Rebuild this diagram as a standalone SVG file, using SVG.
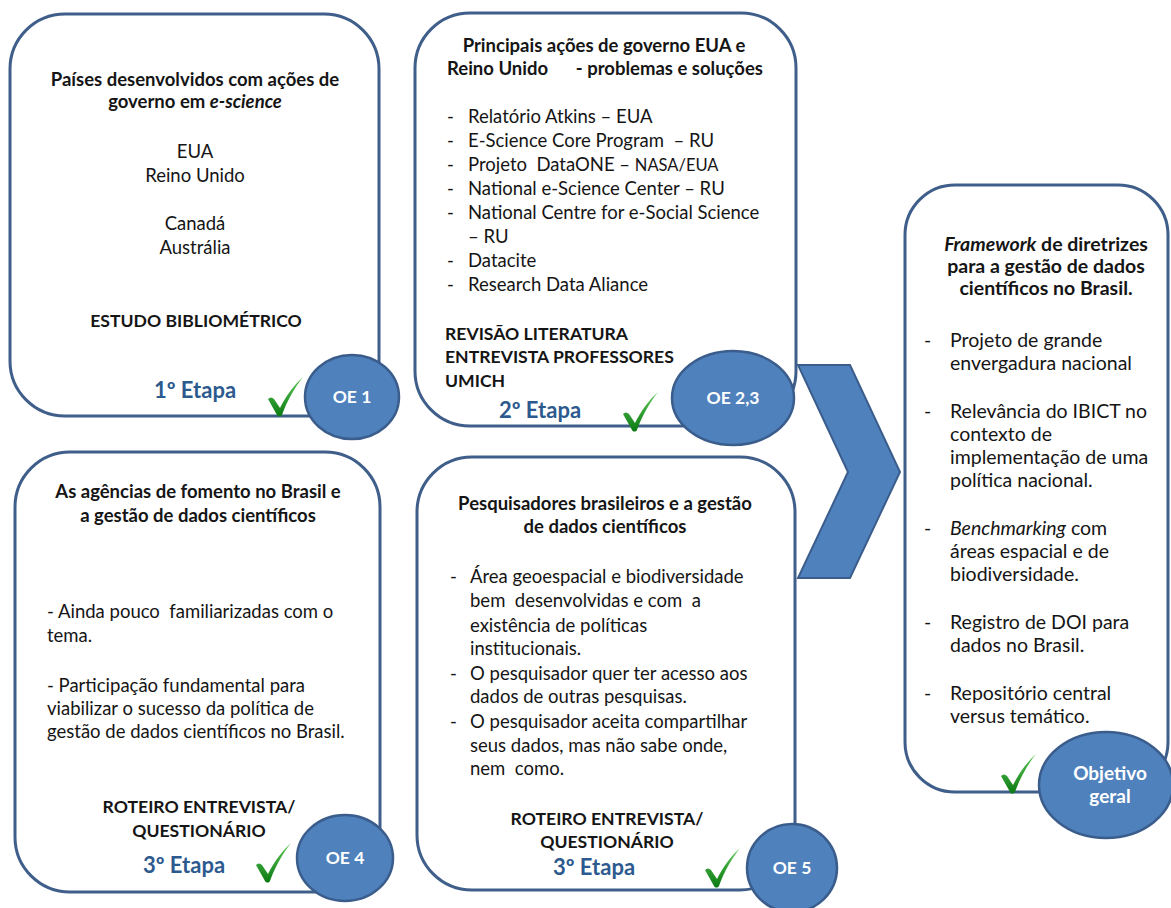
<svg xmlns="http://www.w3.org/2000/svg" width="1171" height="908" viewBox="0 0 1171 908">
  <defs>
    <linearGradient id="tickFill" x1="0" y1="0" x2="0" y2="1">
      <stop offset="0" stop-color="#5fc85a"/>
      <stop offset="1" stop-color="#0a7a12"/>
    </linearGradient>
    <!-- green tick mark, 36 x 40 -->
    <path id="tick" d="M1,22 C3,20 5,20 7,22 L13,31 C19,19 27,8 36,0 C28,10 20,24 15,38 C14,40 11,40 10,38 Z" fill="url(#tickFill)"/>
  </defs>
  <style>
    .box{fill:#fff;stroke:#3f5e89;stroke-width:3}
    .oe{fill:#4f81bd;stroke:#3a5d8c;stroke-width:2.5}
    text{font-family:Lato,"Open Sans","Liberation Sans",sans-serif;fill:#151515;font-size:18.5px}
    .b{font-weight:bold}
    .c{text-anchor:middle}
    .caps{font-size:17.6px;font-weight:bold}
    .big{font-size:19.5px}
    .et{font-size:22px;font-weight:bold;fill:#2d5a8e;text-anchor:middle}
    .oel{font-size:17.5px;font-weight:bold;fill:#fff;text-anchor:middle}
    .goal{font-size:19px;font-weight:bold;fill:#fff;text-anchor:middle}
    .arrow{fill:#4f81bd;stroke:#3a5d8c;stroke-width:2}
  </style>
  <rect width="1171" height="908" fill="#fff"/>

  <!-- Stage 1 -->
  <g id="stage1">
    <rect class="box" x="10" y="14" width="369" height="402" rx="55" ry="55"/>
    <text class="b c" x="195" y="86">Países desenvolvidos com ações de</text>
    <text class="b c" x="195" y="108">governo em <tspan font-style="italic">e-science</tspan></text>
    <text class="c" x="195" y="158">EUA</text>
    <text class="c" x="195" y="182">Reino Unido</text>
    <text class="c" x="195" y="230">Canadá</text>
    <text class="c" x="195" y="254">Austrália</text>
    <text class="caps c" x="196" y="327">ESTUDO BIBLIOMÉTRICO</text>
    <text class="et" x="195" y="398">1º Etapa</text>
    <use href="#tick" x="267" y="377"/>
    <ellipse class="oe" cx="352" cy="397" rx="47" ry="42"/>
    <text class="oel" x="352" y="403">OE 1</text>
  </g>

  <!-- Stage 2 -->
  <g id="stage2">
    <rect class="box" x="415" y="13" width="381" height="413" rx="55" ry="55"/>
    <text class="b c" x="604" y="52">Principais ações de governo EUA e</text>
    <text class="b" x="447" y="75">Reino Unido</text>
    <text class="b" x="763" y="75" text-anchor="end">- problemas e soluções</text>
    <g>
      <text x="447" y="123">-</text><text x="468" y="123">Relatório Atkins – EUA</text>
      <text x="447" y="147">-</text><text x="468" y="147" xml:space="preserve">E-Science Core Program  – RU</text>
      <text x="447" y="171">-</text><text x="468" y="171" xml:space="preserve">Projeto  DataONE – <tspan font-size="16.5px">NASA/EUA</tspan></text>
      <text x="447" y="195">-</text><text x="468" y="195">National e-Science Center – RU</text>
      <text x="447" y="219">-</text><text x="468" y="219">National Centre for e-Social Science</text>
      <text x="468" y="243">– RU</text>
      <text x="447" y="267">-</text><text x="468" y="267">Datacite</text>
      <text x="447" y="291">-</text><text x="468" y="291">Research Data Aliance</text>
    </g>
    <text class="caps" x="445" y="340">REVISÃO LITERATURA</text>
    <text class="caps" x="445" y="363">ENTREVISTA PROFESSORES</text>
    <text class="caps" x="445" y="387">UMICH</text>
    <text class="et" x="540" y="418">2º Etapa</text>
    <use href="#tick" x="622" y="392"/>
    <ellipse class="oe" cx="733" cy="398" rx="61" ry="47"/>
    <text class="oel" x="733" y="404">OE 2,3</text>
  </g>

  <!-- Stage 3: funding agencies -->
  <g id="stage3a">
    <rect class="box" x="15" y="452" width="365" height="440" rx="55" ry="55"/>
    <text class="b c" x="198" y="498">As agências de fomento no Brasil e</text>
    <text class="b c" x="198" y="522">a gestão de dados científicos</text>
    <text x="47" y="618" xml:space="preserve">- Ainda pouco  familiarizadas com o</text>
    <text x="47" y="642">tema.</text>
    <text x="47" y="692">- Participação fundamental para</text>
    <text x="47" y="715">viabilizar o sucesso da política de</text>
    <text x="47" y="738">gestão de dados científicos no Brasil.</text>
    <text class="caps c" x="199" y="813">ROTEIRO ENTREVISTA/</text>
    <text class="caps c" x="199" y="837">QUESTIONÁRIO</text>
    <text class="et" x="184" y="873">3º Etapa</text>
    <use href="#tick" x="255" y="843"/>
    <ellipse class="oe" cx="345" cy="858" rx="48" ry="43"/>
    <text class="oel" x="345" y="864">OE 4</text>
  </g>

  <!-- Stage 3: researchers -->
  <g id="stage3b">
    <rect class="box" x="417" y="457" width="378" height="433" rx="55" ry="55"/>
    <text class="b c" x="605" y="510">Pesquisadores brasileiros e a gestão</text>
    <text class="b c" x="605" y="533">de dados científicos</text>
    <text x="450" y="583">-</text><text x="470" y="583">Área geoespacial e biodiversidade</text>
    <text x="470" y="607" xml:space="preserve">bem  desenvolvidas e com  a</text>
    <text x="470" y="632">existência de políticas</text>
    <text x="470" y="655">institucionais.</text>
    <text x="450" y="680">-</text><text x="470" y="680">O pesquisador quer ter acesso aos</text>
    <text x="470" y="703">dados de outras pesquisas.</text>
    <text x="450" y="728">-</text><text x="470" y="728">O pesquisador aceita compartilhar</text>
    <text x="470" y="752">seus dados, mas não sabe onde,</text>
    <text x="470" y="775" xml:space="preserve">nem  como.</text>
    <text class="caps c" x="607" y="825">ROTEIRO ENTREVISTA/</text>
    <text class="caps c" x="607" y="848">QUESTIONÁRIO</text>
    <text class="et" x="594" y="875">3º Etapa</text>
    <use href="#tick" x="704" y="848"/>
    <ellipse class="oe" cx="792" cy="868" rx="45" ry="44"/>
    <text class="oel" x="792" y="874">OE 5</text>
  </g>

  <!-- Flow arrow towards the general objective -->
  <g id="connectors">
    <polygon class="arrow" points="798,365 850,365 900,472 850,578 798,578 848,472"/>
  </g>

  <!-- General objective -->
  <g id="objective">
    <rect class="box" x="905" y="185" width="263" height="607" rx="50" ry="50"/>
    <text class="b c big" x="1046" y="251"><tspan font-style="italic">Framework</tspan> de diretrizes</text>
    <text class="b c big" x="1046" y="273">para a gestão de dados</text>
    <text class="b c big" x="1046" y="295">científicos no Brasil.</text>
    <text class="big" x="924" y="347">-</text><text class="big" x="950" y="347">Projeto de grande</text>
    <text class="big" x="950" y="370">envergadura nacional</text>
    <text class="big" x="924" y="418">-</text><text class="big" x="950" y="418">Relevância do IBICT no</text>
    <text class="big" x="950" y="441">contexto de</text>
    <text class="big" x="950" y="464">implementação de uma</text>
    <text class="big" x="950" y="487">política nacional.</text>
    <text class="big" x="924" y="535">-</text><text class="big" x="950" y="535"><tspan font-style="italic">Benchmarking</tspan> com</text>
    <text class="big" x="950" y="558">áreas espacial e de</text>
    <text class="big" x="950" y="581">biodiversidade.</text>
    <text class="big" x="924" y="629">-</text><text class="big" x="950" y="629">Registro de DOI para</text>
    <text class="big" x="950" y="652">dados no Brasil.</text>
    <text class="big" x="924" y="700">-</text><text class="big" x="950" y="700">Repositório central</text>
    <text class="big" x="950" y="723">versus temático.</text>
    <use href="#tick" x="1000" y="754"/>
    <ellipse class="oe" cx="1106" cy="785" rx="67" ry="53"/>
    <text class="goal" x="1110" y="780">Objetivo</text>
    <text class="goal" x="1110" y="803">geral</text>
  </g>
</svg>
